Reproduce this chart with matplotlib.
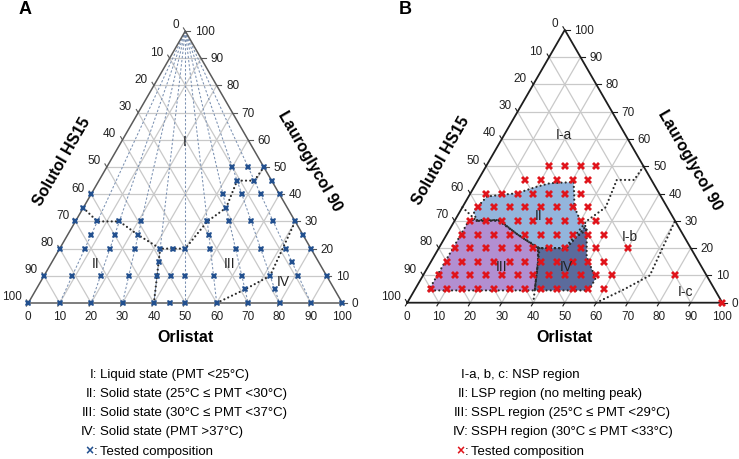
import matplotlib.pyplot as plt
import numpy as np

plt.rcParams['font.family'] = ['Liberation Sans', 'DejaVu Sans']

H = np.sqrt(3) / 2
W_PX, H_PX = 739, 459

# ---------------- data: (Orlistat %, Lauroglycol 90 %) ----------------
tick_values = [0, 10, 20, 30, 40, 50, 60, 70, 80, 90, 100]

# panel A tested compositions: Lauroglycol level and Orlistat/(Orlistat+Solutol) fraction
a_levels = [0, 5, 10, 15, 20, 25, 30, 35, 40, 45, 50]
a_fracs = [
    [0, .1, .2, .3, .4, .45, .5, .6, .7, .8, .9, 1],
    [.7, .8],
    [0, .1, .2, .3, .4, .45, .5, .6, .7, .8, .9, 1],
    [.4, .9],
    [0, .1, .2, .3, .4, .45, .5, .6, .7, .8, .9, 1],
    [.1, .2, .3, .6, 1],
    [0, .1, .2, .3, .6, .7, .8, .9, 1],
    [0, .7],
    [0, .7, .8, .9, 1],
    [.8, .9, 1],
    [.8, .9, 1],
]
ray_fracs = [.1, .2, .3, .4, .5, .6, .7, .8, .9]

# panel B tested compositions: Lauroglycol level and Orlistat values
b_levels = [0, 5, 10, 15, 20, 25, 30, 35, 40, 45, 50]
b_orlistat = [
    [100],
    [5, 10, 15, 20, 25, 30, 35, 40, 45, 50, 55, 60],
    [5, 10, 15, 20, 25, 30, 35, 40, 45, 50, 55, 60, 80],
    [5, 10, 15, 20, 25, 30, 35, 40, 45, 50, 55],
    [5, 10, 15, 20, 25, 30, 35, 40, 45, 50, 60],
    [5, 10, 15, 20, 25, 30, 35, 40, 45, 50],
    [5, 10, 15, 20, 25, 30, 35, 40, 45],
    [5, 10, 15, 20, 25, 30, 35, 40],
    [5, 10, 15, 20, 25, 30, 35],
    [15, 20, 25, 30, 35],
    [20, 25, 30, 35],
]

# phase boundaries (dotted), as (Orlistat, Lauroglycol)
boundary_1 = [(0, 35), (7, 30), (14, 30), (22.5, 25), (32, 20), (40, 20),
              (42, 30), (45.5, 35), (44, 45), (49.5, 45), (50, 50)]
boundary_2 = [(32, 20), (34, 15), (36, 10), (40, 0)]
boundary_3 = [(60, 0), (66.5, 5), (72, 10), (70, 30)]

# panel B regions
region_ii = [(7, 30), (4.3, 33.5), (5.8, 38.9), (9.7, 39.5), (14.7, 40.1), (19.8, 42.5),
             (23.4, 43.8), (30.7, 44.2), (33.5, 39), (35.4, 35.2), (39.7, 30.3),
             (42.2, 28.5), (43.5, 26.5), (41.5, 24), (40.5, 20), (31.5, 20),
             (22.5, 25), (14, 30.3)]
region_iii = [(4.5, 4.5), (4.5, 30.3), (14, 30.3), (22.5, 25), (31.5, 20), (34, 15),
              (36, 10), (38.2, 4.5)]
region_iv = [(31.5, 20), (40.5, 20), (42.5, 27.5), (43.3, 27.3), (48.5, 16.9),
             (53.7, 10.8), (55.3, 8.9), (55.4, 5.3), (55, 4.5), (38.2, 4.5),
             (36, 10), (34, 15)]

labels_a = [('I', 20.2, 59.3), ('II', 14.4, 14.3), ('III', 57, 14.3), ('IV', 77.3, 7.8)]
labels_b = [('I-a', 19, 61.5), ('II', 25.7, 31.8), ('III', 23.4, 13.2), ('IV', 44, 13.2),
            ('I-b', 58.7, 24), ('I-c', 86.2, 4)]

legend_a = [('I:', 'Liquid state (PMT <25°C)'),
            ('II:', 'Solid state (25°C ≤ PMT <30°C)'),
            ('III:', 'Solid state (30°C ≤ PMT <37°C)'),
            ('IV:', 'Solid state (PMT >37°C)')]
legend_b = [('II:', 'LSP region (no melting peak)'),
            ('III:', 'SSPL region (25°C ≤ PMT <29°C)'),
            ('IV:', 'SSPH region (30°C ≤ PMT <33°C)')]

color_a = '#22508f'
color_b = '#e0141b'
dot_style = dict(color='#2b2b2b', linestyle=(0, (0.01, 1.9)), linewidth=1.6,
                 dash_capstyle='round', solid_capstyle='round', zorder=5)


def tern(o, l):
    o = np.asarray(o, dtype=float)
    l = np.asarray(l, dtype=float)
    return o + l / 2, l * H


def draw_frame(ax, edge_color, edge_lw):
    for k in tick_values[1:-1]:
        ax.plot(*tern([0, 100 - k], [k, k]), color='#c9c9c9', lw=0.9, zorder=1)
        ax.plot(*tern([k, k], [0, 100 - k]), color='#c9c9c9', lw=0.9, zorder=1)
        ax.plot(*tern([100 - k, 0], [0, 100 - k]), color='#c9c9c9', lw=0.9, zorder=1)
    ax.plot(*tern([0, 100, 0, 0], [0, 0, 100, 0]), color=edge_color, lw=edge_lw, zorder=6)

    for k in tick_values:
        # bottom (Orlistat)
        x, y = tern(k, 0)
        ax.plot([x, x - 0.6], [y, y - 1.0], color=edge_color, lw=0.8)
        ax.text(x, y - 4.4, str(k), ha='center', va='center', fontsize=8.5, color='#222')
        # right (Lauroglycol 90)
        x, y = tern(100 - k, k)
        ax.plot([x, x + 1.5], [y, y], color=edge_color, lw=0.8)
        ax.text(x + 3.0, y - 0.3, str(k), ha='left', va='center', fontsize=8.5, color='#222')
        # left (Solutol HS15)
        x, y = tern(0, 100 - k)
        ax.plot([x, x - 0.6], [y, y + 1.0], color=edge_color, lw=0.8)
        ax.text(x - 2.0, y + 1.8, str(k), ha='right', va='center', fontsize=8.5, color='#222')

    ax.text(10.8, 45.0, 'Solutol HS15', rotation=60, ha='center', va='center',
            fontsize=11.5, fontweight='bold')
    ax.text(89.7, 45.2, 'Lauroglycol 90', rotation=-60, ha='center', va='center',
            fontsize=11.5, fontweight='bold')
    ax.text(50, -11.1, 'Orlistat', ha='center', va='center', fontsize=11.5, fontweight='bold')


def draw_boundaries(ax):
    for line in (boundary_1, boundary_2, boundary_3):
        o, l = zip(*line)
        ax.plot(*tern(o, l), **dot_style)


fig = plt.figure(figsize=(W_PX / 100, H_PX / 100), dpi=100)

scale_a, scale_b = 3.14, 3.15
ax_a = fig.add_axes([(28.3 - 8 * scale_a) / W_PX, (H_PX - 303 - 12 * scale_a) / H_PX,
                     118 * scale_a / W_PX, 108 * scale_a / H_PX])
ax_b = fig.add_axes([(407.3 - 8 * scale_b) / W_PX, (H_PX - 302.7 - 12 * scale_b) / H_PX,
                     118 * scale_b / W_PX, 108 * scale_b / H_PX])
for ax in (ax_a, ax_b):
    ax.set_xlim(-8, 110)
    ax.set_ylim(-12, 96)
    ax.set_axis_off()

# ---- panel A ----
draw_frame(ax_a, '#5a5a5a', 1.1)
for r in ray_fracs:
    ax_a.plot(*tern([0, 100 * r], [100, 0]), color='#7b91b2', lw=0.75,
              linestyle=(0, (2.2, 1.8)), zorder=2)
draw_boundaries(ax_a)
for lev, fr in zip(a_levels, a_fracs):
    o = np.asarray(fr) * (100 - lev)
    ax_a.plot(*tern(o, np.full(len(o), lev)), linestyle='none', marker='X', ms=5,
              mew=0, color=color_a, zorder=8)
for s, o, l in labels_a:
    ax_a.text(*tern(o, l), s, ha='center', va='center', fontsize=10, color='#222', zorder=9)

# ---- panel B ----
draw_frame(ax_b, '#1e1e1e', 1.3)
for poly, col in ((region_ii, '#93b5dc'), (region_iii, '#b28fd1'), (region_iv, '#5b6b9c')):
    o, l = zip(*poly)
    x, y = tern(o, l)
    ax_b.fill(x, y, color=col, zorder=3, lw=0)
    ax_b.plot(np.append(x, x[0]), np.append(y, y[0]), **dot_style)
draw_boundaries(ax_b)
for lev, ov in zip(b_levels, b_orlistat):
    ax_b.plot(*tern(ov, np.full(len(ov), lev)), linestyle='none', marker='X', ms=6,
              mew=0, color=color_b, zorder=8)
for s, o, l in labels_b:
    ax_b.text(*tern(o, l), s, ha='center', va='center', fontsize=10, color='#222', zorder=9)

# ---- panel letters ----
fig.text(25 / W_PX, 1 - 9 / H_PX, 'A', ha='center', va='center', fontsize=13, fontweight='bold')
fig.text(405.5 / W_PX, 1 - 9 / H_PX, 'B', ha='center', va='center', fontsize=13, fontweight='bold')

# ---- legends ----
rows_y = [375, 394.3, 413.3, 432.3, 451.7]
for (lab, desc), y in zip(legend_a, rows_y):
    fig.text(97 / W_PX, 1 - y / H_PX, lab, ha='right', va='center', fontsize=9.5)
    fig.text(99.5 / W_PX, 1 - y / H_PX, desc, ha='left', va='center', fontsize=9.5)
fig.text(97 / W_PX, 1 - rows_y[4] / H_PX, ':', ha='right', va='center', fontsize=9.5)
fig.text(93.3 / W_PX, 1 - rows_y[4] / H_PX, '×', ha='right', va='center', fontsize=10,
         fontweight='bold', color=color_a)
fig.text(99.5 / W_PX, 1 - rows_y[4] / H_PX, 'Tested composition', ha='left', va='center', fontsize=9.5)

fig.text(460.7 / W_PX, 1 - rows_y[0] / H_PX, 'I-a, b, c: NSP region', ha='left', va='center',
         fontsize=9.5)
for (lab, desc), y in zip(legend_b, rows_y[1:4]):
    fig.text(468.5 / W_PX, 1 - y / H_PX, lab, ha='right', va='center', fontsize=9.5)
    fig.text(471 / W_PX, 1 - y / H_PX, desc, ha='left', va='center', fontsize=9.5)
fig.text(468.5 / W_PX, 1 - rows_y[4] / H_PX, ':', ha='right', va='center', fontsize=9.5)
fig.text(464.8 / W_PX, 1 - rows_y[4] / H_PX, '×', ha='right', va='center', fontsize=10,
         fontweight='bold', color=color_b)
fig.text(471 / W_PX, 1 - rows_y[4] / H_PX, 'Tested composition', ha='left', va='center', fontsize=9.5)

fig.savefig('out.png', dpi=100)
